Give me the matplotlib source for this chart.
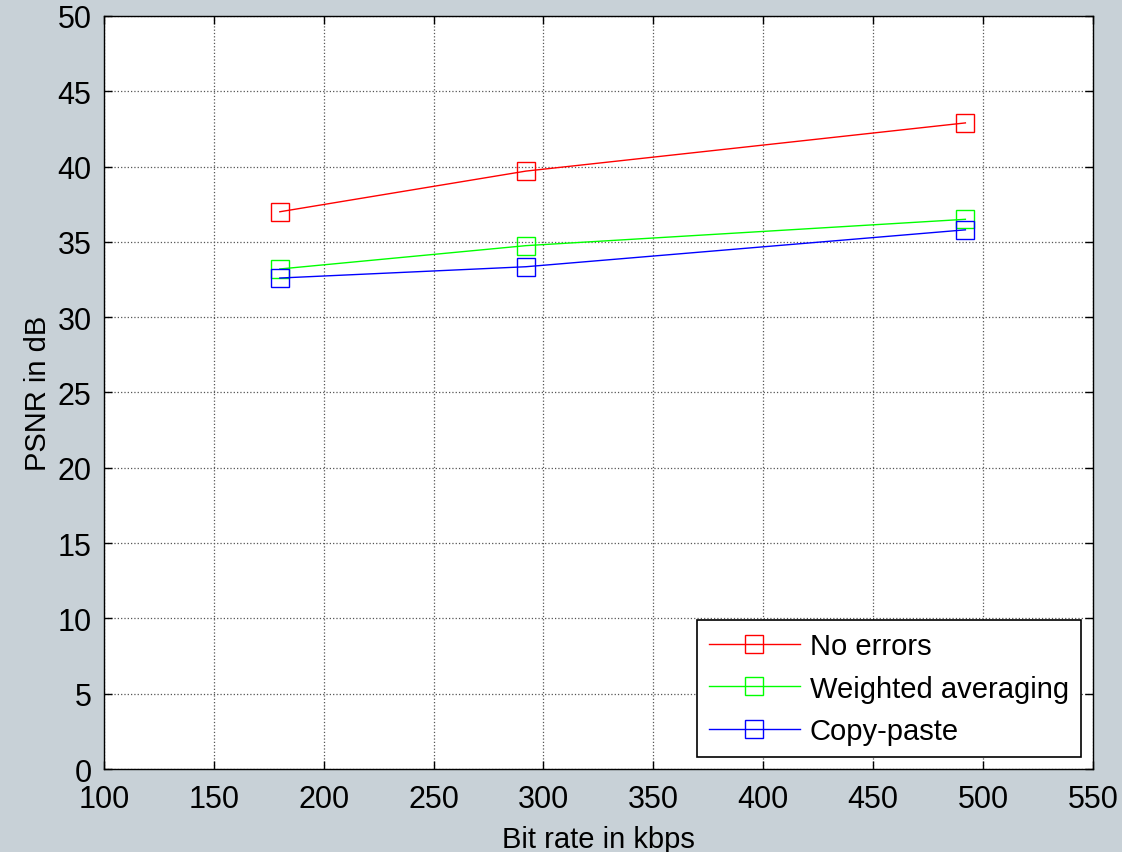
import numpy as np
import matplotlib.pyplot as plt
import matplotlib

matplotlib.rcParams.update({'font.family': ['Liberation Sans', 'DejaVu Sans'], 'font.size': 21})

# data
bitrate = [180, 292, 492]
psnr_no_err = [37.0, 39.7, 42.9]
psnr_weighted = [33.2, 34.75, 36.5]
psnr_copy = [32.6, 33.35, 35.8]

bg = '#c8d1d7'
fig = plt.figure(figsize=(11.22, 8.53), dpi=100, facecolor=bg)
ax = fig.add_axes([0.0927, 0.0973, 0.8813, 0.8828])

ax.plot(bitrate, psnr_no_err, color='red', lw=1, marker='s', ms=13,
        mfc='none', mec='red', mew=1, label='No errors')
ax.plot(bitrate, psnr_weighted, color='#00ff00', lw=1, marker='s', ms=13,
        mfc='none', mec='#00ff00', mew=1, label='Weighted averaging')
ax.plot(bitrate, psnr_copy, color='blue', lw=1, marker='s', ms=13,
        mfc='none', mec='blue', mew=1, label='Copy-paste')

ax.set_xlim(100, 550)
ax.set_ylim(0, 50)
ax.set_xticks(np.arange(100, 551, 50))
ax.set_yticks(np.arange(0, 51, 5))
ax.grid(True, color='#555555', linestyle=':', linewidth=0.9)
ax.tick_params(direction='in', top=True, right=True, length=6, width=1, labelsize=22)
ax.tick_params(axis='x', pad=11)
ax.tick_params(axis='y', pad=9)
for s in ax.spines.values():
    s.set_linewidth(1)

ax.set_xlabel('Bit rate in kbps', fontsize=21, labelpad=8)
ax.set_ylabel('PSNR in dB', fontsize=21, labelpad=4)

leg = ax.legend(loc='lower right', fontsize=21, fancybox=False, framealpha=1,
                edgecolor='black', handlelength=3.1, borderaxespad=0.42,
                labelspacing=0.5, handletextpad=0.35, borderpad=0.4)
leg.get_frame().set_linewidth(1.2)

plt.savefig('out.png', dpi=100, facecolor=bg)
